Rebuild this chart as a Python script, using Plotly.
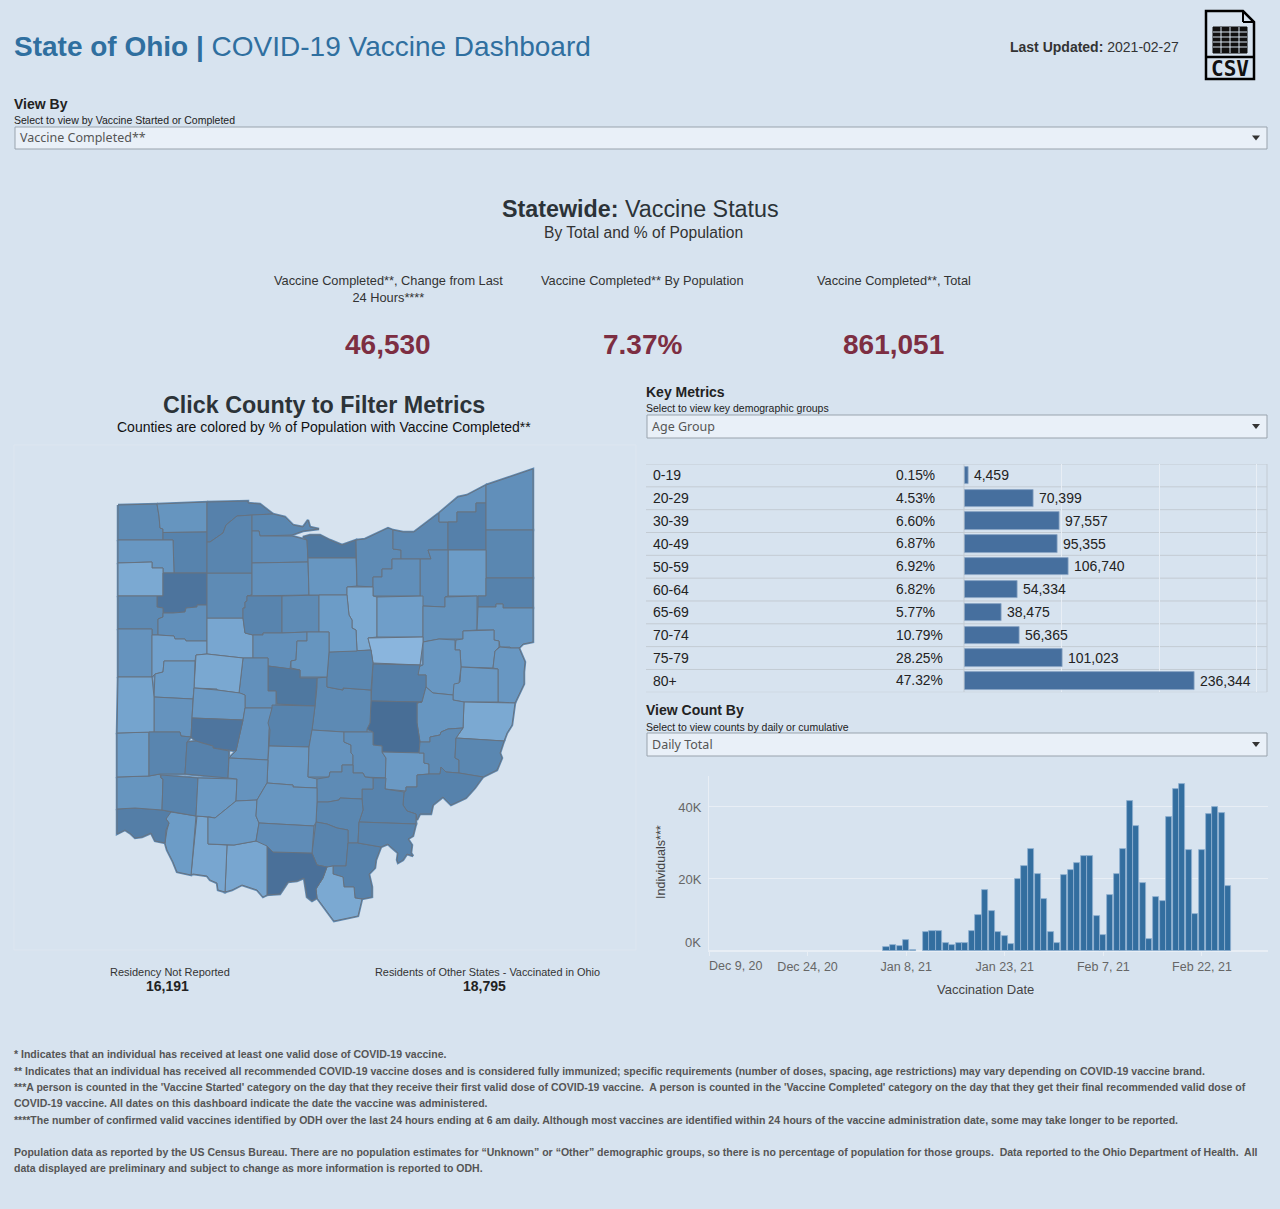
import plotly.graph_objects as go
from plotly.colors import sample_colorscale

W, H = 1280, 1209
BG = "#d7e3ef"

AGE_GROUPS = ["0-19", "20-29", "30-39", "40-49", "50-59", "60-64", "65-69", "70-74", "75-79", "80+"]
AGE_PCT = ["0.15%", "4.53%", "6.60%", "6.87%", "6.92%", "6.82%", "5.77%", "10.79%", "28.25%", "47.32%"]
AGE_COUNTS = [4459, 70399, 97557, 95355, 106740, 54334, 38475, 56365, 101023, 236344]

VAX_DATES = ["2021-01-05", "2021-01-06", "2021-01-07", "2021-01-08", "2021-01-09", "2021-01-11", "2021-01-12",
             "2021-01-13", "2021-01-14", "2021-01-15", "2021-01-16", "2021-01-17", "2021-01-18", "2021-01-19",
             "2021-01-20", "2021-01-21", "2021-01-22", "2021-01-23", "2021-01-24", "2021-01-25", "2021-01-26",
             "2021-01-27", "2021-01-28", "2021-01-29", "2021-01-30", "2021-01-31", "2021-02-01", "2021-02-02",
             "2021-02-03", "2021-02-04", "2021-02-05", "2021-02-06", "2021-02-07", "2021-02-08", "2021-02-09",
             "2021-02-10", "2021-02-11", "2021-02-12", "2021-02-13", "2021-02-14", "2021-02-15", "2021-02-16",
             "2021-02-17", "2021-02-18", "2021-02-19", "2021-02-20", "2021-02-21", "2021-02-22", "2021-02-23",
             "2021-02-24", "2021-02-25", "2021-02-26"]
VAX_COUNTS = [1000, 1700, 1400, 3000, 400, 5300, 5500, 5500, 2300, 1700, 2300, 2300, 5500, 10100, 17000, 11000,
              5200, 4300, 2000, 19900, 23500, 28300, 21400, 14400, 5200, 2300, 21100, 22400, 24400, 26300, 26300,
              9700, 4500, 15600, 21400, 28300, 41600, 34700, 18800, 3200, 14900, 14000, 37300, 45100, 46400,
              28000, 10400, 28000, 38000, 39900, 38300, 18100]
DATE_TICKS = ["2020-12-09", "2020-12-24", "2021-01-08", "2021-01-23", "2021-02-07", "2021-02-22"]
DATE_LABELS = ["", "Dec 24, 20", "Jan 8, 21", "Jan 23, 21", "Feb 7, 21", "Feb 22, 21"]

KPI_TITLES = ["Vaccine Completed**, Change from Last<br>24 Hours****", "Vaccine Completed** By Population",
              "Vaccine Completed**, Total"]
KPI_VALUES = ["46,530", "7.37%", "861,051"]

FOOTNOTES = [
    "* Indicates that an individual has received at least one valid dose of COVID-19 vaccine.",
    "** Indicates that an individual has received all recommended COVID-19 vaccine doses and is considered fully immunized; specific requirements (number of doses, spacing, age restrictions) may vary depending on COVID-19 vaccine brand.",
    "***A person is counted in the 'Vaccine Started' category on the day that they receive their first valid dose of COVID-19 vaccine.  A person is counted in the 'Vaccine Completed' category on the day that they get their final recommended valid dose of",
    "COVID-19 vaccine. All dates on this dashboard indicate the date the vaccine was administered.",
    "****The number of confirmed valid vaccines identified by ODH over the last 24 hours ending at 6 am daily. Although most vaccines are identified within 24 hours of the vaccine administration date, some may take longer to be reported.",
    "Population data as reported by the US Census Bureau. There are no population estimates for “Unknown” or “Other” demographic groups, so there is no percentage of population for those groups.  Data reported to the Ohio Department of Health.  All",
    "data displayed are preliminary and subject to change as more information is reported to ODH.",
]

# share of each county's population with vaccine completed (read from the shading)
COUNTY_PCT = {
    "Williams": 7.6, "Fulton": 6.9, "Henry": 8.2, "Defiance": 6.7, "Paulding": 5.4, "Putnam": 9.6, "Van Wert": 7.7,
    "Allen": 7.3, "Mercer": 7.0, "Auglaize": 6.0, "Hardin": 5.6, "Hancock": 7.6, "Wood": 8.0, "Lucas": 8.4,
    "Ottawa": 7.9, "Sandusky": 7.5, "Seneca": 7.2, "Wyandot": 8.1, "Crawford": 7.6, "Erie": 9.3, "Huron": 6.8,
    "Lorain": 7.6, "Cuyahoga": 7.8, "Lake": 7.0, "Geauga": 8.5, "Ashtabula": 7.3, "Trumbull": 7.9, "Portage": 6.4,
    "Summit": 7.5, "Medina": 7.3, "Ashland": 5.5, "Wayne": 6.2, "Stark": 7.1, "Mahoning": 8.3, "Columbiana": 6.8,
    "Carroll": 6.5, "Jefferson": 6.7, "Harrison": 6.6, "Belmont": 5.4, "Tuscarawas": 6.7, "Holmes": 4.5,
    "Coshocton": 8.5, "Guernsey": 6.8, "Muskingum": 10.2, "Licking": 7.7, "Knox": 7.9, "Marion": 7.2,
    "Richland": 6.4, "Morrow": 6.9, "Delaware": 9.3, "Union": 7.2, "Logan": 5.5, "Shelby": 6.4, "Miami": 7.0,
    "Champaign": 6.6, "Madison": 7.0, "Clark": 9.5, "Franklin": 8.2, "Pickaway": 6.6, "Fairfield": 7.0, "Perry": 7.3,
    "Morgan": 6.6, "Noble": 7.7, "Monroe": 7.9, "Washington": 8.3, "Athens": 8.2, "Hocking": 7.6, "Vinton": 7.9,
    "Jackson": 8.1, "Gallia": 8.3, "Meigs": 8.2, "Lawrence": 5.4, "Scioto": 10.0, "Adams": 5.6, "Brown": 5.6,
    "Clermont": 6.4, "Hamilton": 8.7, "Butler": 6.9, "Preble": 6.3, "Darke": 5.8, "Montgomery": 8.0, "Greene": 8.4,
    "Warren": 8.2, "Clinton": 6.6, "Fayette": 7.0, "Highland": 6.5, "Ross": 6.8, "Pike": 7.5,
}

# county outlines in map units
COUNTY_OUTLINES = {
    "Williams": [(118,505),(157,504),(159,516),(160,528),(163,529),(163,540),(118,540)],
    "Fulton": [(157,504),(207,502),(207,532),(163,532.5),(163,529),(160,528),(159,516)],
    "Henry": [(163,532.5),(207,532),(207,573),(174,573),(173,540),(163,540)],
    "Defiance": [(118,540),(173,540),(174,573),(163,573),(163,568),(152,568),(152,562),(118,563)],
    "Paulding": [(118,563),(152,562),(152,568),(163,568),(163,596),(118,596)],
    "Putnam": [(163,573),(207,573),(207,605),(197,605),(197,607),(186,608),(185,612),(173,613),(163,613),(163,608),(157,607),(157,596),(163,596)],
    "Van Wert": [(118,596),(157,596),(157,607),(163,608),(163,617),(158,619),(158,635),(152,635),(152,629),(118,629)],
    "Allen": [(163,613),(173,613),(185,612),(186,608),(197,607),(197,605),(207,605),(207,641),(186,641),(185,639),(175,639),(174,636),(158,635),(158,619),(163,617)],
    "Mercer": [(118,629),(152,629),(152,677),(118,677)],
    "Auglaize": [(152,635),(158,635),(174,636),(175,639),(185,639),(186,641),(207,641),(207,654),(196,655),(195,661),(164,661),(163,672),(155,674),(152,677)],
    "Hardin": [(207,618),(243,618),(245,633),(253,635),(253,658),(243,658),(207,654)],
    "Hancock": [(207,573),(252,573),(252,595),(247,596),(247,601),(245,602),(245,608),(243,608),(243,618),(207,618)],
    "Lucas": [(207,502),(248,501),(248,503),(260,504),(273,514),(252,515),(237,516),(226,525),(223,533),(210,542),(207,542)],
    "Wood": [(207,542),(210,542),(223,533),(226,525),(237,516),(252,515),(252,573),(207,573)],
    "Ottawa": [(252,515),(273,514),(285,517),(293,525),(303,527),(308,520),(310,527),(319,529),(303,531),(292,535),(260,536),(259,531),(252,531)],
    "Sandusky": [(252,531),(259,531),(260,536),(292,536),(307,540),(308,558),(308,562),(252,563)],
    "Seneca": [(252,563),(308,562),(309,595),(247,596),(252,595)],
    "Wyandot": [(247,596),(282,596),(282,633),(263,633),(263,635),(253,635),(245,633),(243,618),(243,608),(245,608),(245,602),(247,601)],
    "Crawford": [(282,596),(309,595),(319,595),(319,632),(307,632),(282,633)],
    "Erie": [(308,558),(307,540),(303,537),(310,535),(320,535),(330,540),(342,545),(356,540),(356,558)],
    "Huron": [(308,558),(356,558),(357,586),(347,587),(347,595),(319,595),(309,595)],
    "Lorain": [(356,540),(365,539),(388,528),(393,530),(393,549),(401,550),(401,559),(392,559),(392,569),(382,569),(382,577),(373,577),(373,587),(357,586)],
    "Cuyahoga": [(393,530),(403,532),(414,532),(439,513),(439,522),(448,522),(448,550),(428,550),(431,559),(401,559),(401,550),(393,549)],
    "Lake": [(439,513),(458,497),(467,495),(486,485),(486,503),(476,503),(476,512),(457,512),(457,522),(439,522)],
    "Geauga": [(448,522),(457,522),(457,512),(476,512),(476,503),(486,503),(486,550),(448,550)],
    "Ashtabula": [(486,485),(533,469),(533,530),(486,530)],
    "Trumbull": [(486,530),(533,530),(533,578),(486,578)],
    "Portage": [(448,550),(486,550),(486,596),(448,596)],
    "Summit": [(428,550),(448,550),(448,596),(445,597),(445,607),(423,606),(420,596),(420,559),(431,559)],
    "Medina": [(401,559),(420,559),(420,596),(373,596),(373,577),(382,577),(382,569),(392,569),(392,559)],
    "Ashland": [(347,587),(373,587),(373,596),(377,597),(377,637),(368,638),(371,650),(357,651),(356,630),(352,628),(352,620),(349,615),(347,596)],
    "Wayne": [(377,597),(420,596),(423,596),(423,637),(377,637)],
    "Stark": [(423,606),(445,607),(445,597),(477,596),(477,630),(463,631),(463,639),(439,639),(423,642)],
    "Mahoning": [(486,578),(533,578),(533,608),(503,608),(503,604),(496,604),(496,607),(478,607),(478,596),(486,596)],
    "Columbiana": [(478,607),(496,607),(496,604),(503,604),(503,608),(533,608),(533,642),(523,644),(519,648),(511,648),(510,647),(500,647),(499,641),(494,640),(494,630),(477,630)],
    "Carroll": [(463,631),(494,630),(494,640),(499,641),(499,647),(495,651),(493,668),(461,667),(460,650),(455,650),(456,640),(463,639)],
    "Jefferson": [(495,651),(500,647),(511,648),(519,648),(525,662),(524,672),(524,684),(520,693),(515,703),(498,702),(498,669),(493,668)],
    "Harrison": [(461,667),(498,669),(498,702),(464,702),(453,700),(453,683),(460,682)],
    "Belmont": [(464,702),(515,703),(512,725),(507,733),(504,741),(456,738),(463,728)],
    "Tuscarawas": [(423,642),(439,639),(455,640),(455,650),(460,650),(461,667),(459,683),(454,684),(453,695),(433,693),(426,687),(426,675),(418,675),(418,667),(423,665)],
    "Holmes": [(368,638),(423,637),(423,642),(420,665),(373,663),(371,650)],
    "Coshocton": [(373,664),(420,665),(418,675),(426,675),(426,687),(422,702),(371,701)],
    "Guernsey": [(426,687),(433,693),(453,695),(453,700),(464,702),(463,728),(448,729),(441,732),(440,735),(430,737),(430,742),(420,742),(417,723),(417,703),(422,702)],
    "Muskingum": [(371,701),(422,702),(417,703),(417,723),(420,742),(419,753),(382,752),(382,746),(373,745),(373,732),(367,729),(370,723)],
    "Licking": [(317,678),(327,677),(327,687),(343,690),(343,688),(371,690),(371,701),(370,723),(367,729),(367,732),(344,732),(312,730),(315,706),(317,687)],
    "Knox": [(329,652),(357,651),(371,650),(373,663),(371,690),(343,688),(343,690),(327,687),(327,677)],
    "Marion": [(282,633),(307,632),(307,641),(297,641),(296,660),(291,661),(290,669),(268,666),(268,658),(253,658),(253,635),(263,635),(263,633)],
    "Richland": [(319,595),(347,595),(349,615),(352,620),(352,628),(356,630),(357,651),(329,652),(329,632),(319,632)],
    "Morrow": [(307,632),(329,632),(329,652),(327,677),(300,677),(300,670),(291,668),(291,661),(296,660),(297,641),(307,641)],
    "Delaware": [(268,666),(290,669),(300,670),(300,678),(317,678),(315,706),(277,704),(276,691),(268,691)],
    "Union": [(243,658),(268,658),(268,691),(276,691),(276,708),(245,708),(245,695),(239,693)],
    "Logan": [(196,655),(207,654),(243,658),(239,693),(217,690),(217,689),(194,688)],
    "Shelby": [(155,674),(163,672),(164,661),(195,661),(194,688),(193,699),(154,697)],
    "Miami": [(154,697),(193,699),(192,718),(191,737),(181,736),(180,732),(154,732)],
    "Champaign": [(194,688),(217,690),(240,693),(245,695),(245,708),(243,720),(192,718)],
    "Madison": [(245,708),(272,708),(269,730),(268,760),(229,758),(236,751),(243,720)],
    "Clark": [(192,718),(243,720),(236,751),(229,750),(213,748),(213,746),(202,743),(196,741),(191,737)],
    "Franklin": [(272,705),(315,706),(312,730),(309,747),(269,746),(270,730),(268,723),(272,708)],
    "Pickaway": [(269,746),(309,747),(308,777),(317,779),(317,788),(293,787),(293,785),(267,783),(268,760)],
    "Fairfield": [(312,730),(344,732),(344,742),(351,745),(351,753),(353,755),(353,765),(342,765),(342,772),(330,772),(329,777),(308,777),(309,747)],
    "Perry": [(344,732),(367,732),(373,732),(373,745),(382,746),(382,752),(386,758),(386,778),(365,777),(363,773),(353,773),(353,755),(351,753),(351,745),(344,742)],
    "Morgan": [(382,752),(419,753),(424,753),(424,763),(429,764),(429,774),(417,775),(417,787),(406,787),(406,791),(385,789),(386,758)],
    "Noble": [(420,742),(430,742),(430,737),(440,735),(441,732),(448,729),(463,728),(456,738),(455,758),(459,760),(459,773),(446,772),(441,767),(440,774),(429,774),(429,764),(424,763),(424,753),(419,753)],
    "Monroe": [(456,738),(504,741),(500,753),(502,758),(497,770),(483,777),(459,773),(459,760),(455,758)],
    "Washington": [(417,775),(429,774),(440,774),(441,767),(446,772),(459,773),(483,777),(475,788),(466,798),(451,805),(443,797),(433,805),(431,814),(420,814),(417,820),(416,814),(407,811),(403,805),(404,792),(406,791),(406,787),(417,787)],
    "Athens": [(373,778),(386,778),(385,789),(404,792),(403,805),(407,811),(416,814),(416,824),(359,822),(363,810),(362,799),(362,789),(373,789)],
    "Hocking": [(317,779),(329,777),(330,772),(342,772),(342,765),(353,765),(353,773),(363,773),(365,777),(373,778),(373,789),(362,789),(362,799),(340,798),(339,800),(328,802),(317,802)],
    "Vinton": [(317,802),(328,802),(339,800),(340,798),(362,799),(363,810),(359,822),(358,843),(348,843),(348,830),(337,828),(327,824),(316,822)],
    "Jackson": [(316,822),(327,824),(337,828),(348,830),(348,843),(346,866),(333,866),(327,867),(317,865),(312,853)],
    "Gallia": [(348,843),(358,843),(381,847),(376,860),(375,868),(369,874),(372,887),(372,897),(362,899),(355,898),(354,887),(344,887),(343,877),(333,874),(333,866),(346,866)],
    "Meigs": [(359,822),(416,824),(413,836),(408,839),(412,845),(411,853),(413,856),(407,854),(403,860),(398,863),(397,860),(398,853),(391,847),(388,844),(381,847),(358,843)],
    "Lawrence": [(327,867),(333,866),(333,874),(343,877),(344,887),(354,887),(355,898),(362,899),(358,916),(334,921),(331,917),(320,903),(317,898),(316,889),(323,878)],
    "Scioto": [(267,846),(273,852),(312,853),(317,865),(327,867),(323,878),(316,889),(317,898),(312,901),(307,897),(304,878),(297,881),(288,882),(280,894),(267,895)],
    "Adams": [(227,845),(234,845),(256,841),(265,842),(267,846),(267,895),(263,897),(257,890),(242,885),(232,890),(225,892)],
    "Brown": [(197,816),(208,817),(208,844),(227,845),(225,892),(218,890),(217,883),(210,880),(207,876),(193,874),(191,875)],
    "Clermont": [(167,816),(171,812),(196,816),(191,875),(177,872),(173,862),(167,850),(165,843),(167,830),(169,823),(166,819)],
    "Hamilton": [(117,809),(135,808),(162,810),(171,812),(166,819),(169,823),(166,830),(165,843),(155,841),(151,833),(142,837),(135,838),(131,834),(125,830),(117,834)],
    "Butler": [(117,777),(149,776),(160,774),(161,778),(163,779),(162,810),(135,808),(117,809)],
    "Preble": [(117,733),(149,732),(149,776),(117,777)],
    "Darke": [(118,677),(152,677),(154,697),(154,732),(117,733)],
    "Montgomery": [(149,732),(180,732),(181,736),(191,737),(187,742),(185,774),(160,774),(149,776)],
    "Greene": [(187,742),(196,741),(202,743),(213,746),(213,748),(229,751),(228,778),(185,774)],
    "Warren": [(161,775),(198,778),(196,816),(171,812),(162,810),(163,779),(161,778)],
    "Clinton": [(198,778),(237,779),(236,801),(215,818),(210,817),(196,816)],
    "Fayette": [(229,758),(268,760),(267,783),(257,800),(236,801),(237,779),(228,778)],
    "Highland": [(236,801),(257,800),(256,816),(259,823),(256,841),(234,845),(208,844),(208,817),(215,818)],
    "Ross": [(257,800),(267,783),(293,785),(293,787),(317,788),(317,802),(316,822),(314,826),(259,823),(256,816)],
    "Pike": [(259,823),(314,826),(312,853),(273,852),(267,846),(256,841)],
}

SHADES = [[0, "#8ab5dd"], [0.3, "#6d9dc8"], [0.6, "#5884ae"], [1, "#466b93"]]
PCT_LOW, PCT_HIGH = 4.5, 10.5


def fx(x):
    return x / W


def fy(y):
    return 1 - y / H


annots = []
shapes = []


def label(x, y, text, size=13, color="#333333", anchor="left", family="Liberation Sans", angle=0):
    annots.append(dict(xref="paper", yref="paper", x=fx(x), y=fy(y), text=text, showarrow=False,
                       xanchor=anchor, yanchor="middle", align=anchor, textangle=angle,
                       font=dict(size=size, color=color, family=family), borderpad=0, borderwidth=0))


def rect(x0, y0, x1, y1, fill="rgba(0,0,0,0)", line="#000000", width=1, layer="below"):
    shapes.append(dict(type="rect", xref="paper", yref="paper", x0=fx(x0), x1=fx(x1), y0=fy(y0), y1=fy(y1),
                       fillcolor=fill, line=dict(color=line, width=width), layer=layer))


def seg(x0, y0, x1, y1, color="#000000", width=1, layer="below"):
    shapes.append(dict(type="line", xref="paper", yref="paper", x0=fx(x0), x1=fx(x1), y0=fy(y0), y1=fy(y1),
                       line=dict(color=color, width=width), layer=layer))


def dropdown(x0, y0, x1, y1, text):
    rect(x0, y0, x1, y1, fill="#e9f0f8", line="#99a3ad", width=1)
    label(x0 + 5, (y0 + y1) / 2, text, size=12.5, color="#555555", family="Noto Sans")
    cx, cy = x1 - 11, (y0 + y1) / 2
    shapes.append(dict(type="path", xref="paper", yref="paper", layer="above",
                       path=f"M {fx(cx-4)} {fy(cy-2.5)} L {fx(cx+4)} {fy(cy-2.5)} L {fx(cx)} {fy(cy+2.5)} Z",
                       fillcolor="#333333", line=dict(width=0)))


fig = go.Figure()

# backing strokes close hairline gaps between neighbouring outlines
back_x, back_y = [], []
for outline in COUNTY_OUTLINES.values():
    back_x += [p[0] for p in outline] + [outline[0][0], None]
    back_y += [p[1] for p in outline] + [outline[0][1], None]
fig.add_trace(go.Scatter(x=back_x, y=back_y, mode="lines", line=dict(color="#5f8ab3", width=2.5), xaxis="x", yaxis="y",
                         showlegend=False, hoverinfo="skip"))

# county map
for name, outline in COUNTY_OUTLINES.items():
    t = (COUNTY_PCT[name] - PCT_LOW) / (PCT_HIGH - PCT_LOW)
    colour = sample_colorscale(SHADES, [t])[0]
    xs = [p[0] for p in outline] + [outline[0][0]]
    ys = [p[1] for p in outline] + [outline[0][1]]
    fig.add_trace(go.Scatter(x=xs, y=ys, mode="lines", fill="toself", fillcolor=colour, name=name,
                             line=dict(color="#667280", width=1), xaxis="x", yaxis="y", showlegend=False,
                             hoveron="fills", text=f"{name}: {COUNTY_PCT[name]:.1f}%", hoverinfo="text"))

# age table bars
fig.add_trace(go.Bar(x=AGE_COUNTS, y=AGE_GROUPS, orientation="h", xaxis="x2", yaxis="y2", showlegend=False,
                     marker=dict(color="#466f9e", line=dict(color="#8aa6c4", width=0.8)), width=0.76,
                     text=[f"\u2009{v:,}" for v in AGE_COUNTS], textposition="outside", cliponaxis=False,
                     textfont=dict(size=14, color="#222222", family="Liberation Sans")))

# daily chart
fig.add_trace(go.Bar(x=VAX_DATES, y=VAX_COUNTS, xaxis="x3", yaxis="y3", showlegend=False,
                     marker=dict(color="#336e9f", line=dict(color="#8fb1d0", width=0.8)),
                     width=[86400000 * 0.92] * len(VAX_DATES)))

# header
label(14, 46.5, "<b>State of Ohio |</b> COVID-19 Vaccine Dashboard", size=28, color="#2f6f9f")
label(1010, 47, "<b>Last Updated:</b> 2021-02-27", size=14, color="#333333")
label(14, 104, "<b>View By</b>", size=14, color="#222222")
label(14, 120, "Select to view by Vaccine Started or Completed", size=10.5, color="#222222")
dropdown(15, 127, 1267, 149, "Vaccine Completed**")

# CSV icon
shapes.append(dict(type="path", xref="paper", yref="paper", layer="below", fillcolor="rgba(0,0,0,0)",
                   line=dict(color="#000000", width=2.5),
                   path=" ".join(f"{c} {fx(a)} {fy(b)}" for c, a, b in [
                       ("M", 1206, 11), ("L", 1243, 11), ("L", 1254, 22), ("L", 1254, 79), ("L", 1206, 79)]) + " Z"))
seg(1243, 11, 1243, 22, width=2)
seg(1243, 22, 1254, 22, width=2)
seg(1206, 57, 1254, 57, width=2.5)
rect(1213, 27, 1247, 53, fill="#111111", line="#111111", width=1)
for gy in [32, 37, 42, 47]:
    seg(1213, gy, 1247, gy, color="#d7e3ef", width=1, layer="above")
for gx in [1221, 1230, 1239]:
    seg(gx, 27, gx, 53, color="#d7e3ef", width=1, layer="above")
label(1230, 68.5, "<b>CSV</b>", size=21, color="#111111", anchor="center", family="DejaVu Sans Mono")

# statewide
label(640, 209, "<b>Statewide:</b> Vaccine Status", size=23.3, color="#2c3338", anchor="center")
label(643, 232, "By Total and % of Population", size=15.6, color="#333333", anchor="center")
for cx, title, value, ty, vx in zip([388, 642, 894], KPI_TITLES, KPI_VALUES, [289, 281, 281], [388, 642, 893]):
    label(cx, ty, title, size=12.8, color="#333333", anchor="center")
    label(vx, 344, f"<b>{value}</b>", size=28, color="#7d2e42", anchor="center")

# map heading
label(324, 405, "<b>Click County to Filter Metrics</b>", size=23.3, color="#2c3338", anchor="center")
label(324, 427, "Counties are colored by % of Population with Vaccine Completed**", size=14, color="#111111",
      anchor="center")
rect(14, 445, 636, 950, line="#dde6f0", width=1)
label(170, 972, "Residency Not Reported", size=11, color="#333333", anchor="center")
label(167, 986, "<b>16,191</b>", size=14, color="#222222", anchor="center")
label(487, 972, "Residents of Other States - Vaccinated in Ohio", size=10.9, color="#333333", anchor="center")
label(484, 986, "<b>18,795</b>", size=14, color="#222222", anchor="center")

# key metrics
label(646, 392, "<b>Key Metrics</b>", size=14, color="#222222")
label(646, 408, "Select to view key demographic groups", size=10.5, color="#222222")
dropdown(647, 415, 1267, 438, "Age Group")
for i, (g, p) in enumerate(zip(AGE_GROUPS, AGE_PCT)):
    annots.append(dict(xref="paper", yref="y2", x=fx(651), y=g, text=g, showarrow=False, xanchor="left",
                       font=dict(size=14, color="#222222", family="Liberation Sans")))
    annots.append(dict(xref="paper", yref="y2", x=fx(894), y=g, text=p, showarrow=False, xanchor="left",
                       font=dict(size=13.8, color="#222222", family="Liberation Sans")))
for k in range(11):
    shapes.append(dict(type="line", xref="paper", yref="y2", x0=fx(646), x1=fx(1267), y0=k - 0.5, y1=k - 0.5,
                       line=dict(color="#c3cbd3", width=1), layer="below"))
seg(964, 464, 964, 692, color="#c3cbd3", width=1)
seg(1267, 464, 1267, 692, color="#c3cbd3", width=1)

# view count
label(646, 710, "<b>View Count By</b>", size=14, color="#222222")
label(646, 727, "Select to view counts by daily or cumulative", size=10.5, color="#222222")
dropdown(647, 733, 1267, 756, "Daily Total")
label(736, 966, "Dec 9, 20", size=12.5, color="#666666", anchor="center")
label(701, 942, "0K", size=13, color="#666666", anchor="right")
label(661, 862, "Individuals***", size=12.5, color="#444444", anchor="center", angle=-90)
label(985, 989.5, "Vaccination Date", size=13, color="#444444", anchor="center")

# footnotes
for y, text in zip([1054, 1071, 1087, 1103, 1120, 1152, 1168], FOOTNOTES):
    label(14, y, f"<b>{text}</b>", size=10.52, color="#555555")

GRID = "#e8eef5"
fig.update_layout(
    width=W, height=H, margin=dict(l=0, r=0, t=0, b=0), autosize=False,
    paper_bgcolor=BG, plot_bgcolor="rgba(0,0,0,0)", showlegend=False, bargap=0,
    font=dict(family="Liberation Sans"),
    annotations=annots, shapes=shapes,
    xaxis=dict(domain=[fx(14), fx(636)], range=[14, 636], visible=False, fixedrange=True),
    yaxis=dict(domain=[fy(950), fy(445)], range=[950, 445], visible=False, fixedrange=True),
    xaxis2=dict(domain=[fx(964.5), fx(1267)], range=[0, 310800], anchor="y2", showticklabels=False, ticks="",
                tickvals=[100000, 200000, 300000], showgrid=True, gridcolor=GRID, gridwidth=1, zeroline=False,
                showline=False, fixedrange=True),
    yaxis2=dict(domain=[fy(692.3), fy(464)], range=[9.5, -0.5], type="category", categoryorder="array",
                categoryarray=AGE_GROUPS, anchor="x2", showticklabels=False, ticks="", showgrid=False,
                zeroline=False, showline=False, fixedrange=True),
    xaxis3=dict(domain=[fx(709), fx(1268)], range=["2020-12-09", "2021-03-04 01:00"], type="date", anchor="y3",
                tickvals=DATE_TICKS, ticktext=DATE_LABELS, ticks="outside", ticklen=4, tickcolor=GRID, tickwidth=1,
                showgrid=False, zeroline=False, showline=True, linecolor=GRID, linewidth=1, ticklabelstandoff=0,
                tickfont=dict(size=12.5, color="#666666", family="Liberation Sans"), fixedrange=True),
    yaxis3=dict(domain=[fy(951), fy(776)], range=[0, 48600], anchor="x3", tickvals=[0, 20000, 40000],
                ticktext=["", "20K", "40K"], showgrid=True, gridcolor=GRID, gridwidth=1, zeroline=True,
                zerolinecolor=GRID, showline=True, linecolor=GRID, linewidth=1, ticks="", ticklabelstandoff=4,
                tickfont=dict(size=13, color="#666666", family="Liberation Sans"), fixedrange=True),
)

fig.write_html("out.html", config={"displayModeBar": False},
               post_script="document.body.style.margin='0';document.body.style.overflow='hidden';")
